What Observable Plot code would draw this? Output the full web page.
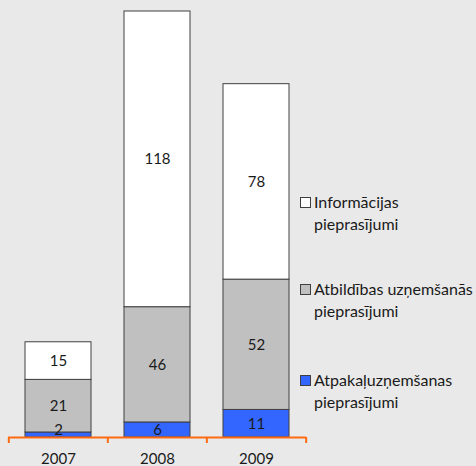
<!DOCTYPE html>
<html>
<head>
<meta charset="utf-8">
<script src="https://cdn.jsdelivr.net/npm/d3@7"></script>
<script src="https://cdn.jsdelivr.net/npm/@observablehq/plot@0.6"></script>
<style>
  html, body { margin: 0; padding: 0; background: #e9e9e9; }
  body { width: 476px; height: 466px; position: relative; overflow: hidden; font-family: Lato, "Open Sans", sans-serif; color: #1a1a1a; }
  #chart { position: absolute; left: 0; top: 0; }
  #legend { position: absolute; left: 300px; top: 191px; }
  .item { position: relative; height: 44px; margin-bottom: 43px; padding-left: 14px; font-size: 16px; line-height: 22px; white-space: nowrap; }
  .item:nth-child(2) { margin-bottom: 47px; }
  .sw { position: absolute; left: 0; top: 6px; width: 9px; height: 9px; border: 1px solid #404040; }
</style>
</head>
<body>
<div id="chart"></div>
<div id="legend"></div>
<script>
const years = ["2007", "2008", "2009"];
const seriesNames = [
  "Atpakaļuzņemšanas pieprasījumi",
  "Atbildības uzņemšanās pieprasījumi",
  "Informācijas pieprasījumi"
];
const seriesColors = ["#3366ff", "#c0c0c0", "#ffffff"];
const returnReq = [2, 6, 11];
const responsibilityReq = [21, 46, 52];
const infoReq = [15, 118, 78];

const seriesValues = [returnReq, responsibilityReq, infoReq];
const data = [];
seriesNames.forEach((s, si) => {
  years.forEach((y, yi) => data.push({year: y, series: s, value: seriesValues[si][yi]}));
});

const W = 476, H = 466, ML = 8, MR = 170, MT = 11, MB = 29;
const step = (W - ML - MR) / years.length;
const orange = "#ff6a13";

const chart = Plot.plot({
  width: W,
  height: H,
  marginLeft: ML,
  marginRight: MR,
  marginTop: MT,
  marginBottom: MB,
  style: {background: "transparent", fontFamily: "Lato, 'Open Sans', sans-serif", color: "#1a1a1a"},
  x: {domain: years, paddingInner: 0.336, paddingOuter: 0.168, label: null},
  y: {domain: [0, 170], axis: null},
  color: {domain: seriesNames, range: seriesColors},
  marks: [
    Plot.barY(data, {x: "year", y: "value", fill: "series", stroke: "#404040", strokeWidth: 1, order: seriesNames}),
    Plot.text(data, Plot.stackY({x: "year", y: "value", text: "value", z: "series", order: seriesNames, fontSize: 15, fill: "#1a1a1a"})),
    Plot.ruleY([0], {stroke: orange, strokeWidth: 2}),
    Plot.axisX({tickSize: 6, dx: -step / 2, stroke: orange, strokeWidth: 2, tickFormat: () => "", label: null}),
    Plot.axisX([years[years.length - 1]], {tickSize: 6, dx: step / 2, stroke: orange, strokeWidth: 2, tickFormat: () => "", label: null}),
    Plot.axisX({tickSize: 0, tickPadding: 16, fontSize: 15, fill: "#1a1a1a", label: null})
  ]
});
document.getElementById("chart").appendChild(chart);

// Excel nudges a label that does not fit its thin segment upward a little
const texts = chart.querySelectorAll("text");
texts.forEach((t) => {
  if (t.textContent === String(returnReq[0]) && !t.closest("g[aria-label^='x-axis']")) {
    const tr = t.getAttribute("transform") || "";
    t.setAttribute("transform", tr + " translate(0,-5)");
  }
});

const legend = document.getElementById("legend");
seriesNames.slice().reverse().forEach((name) => {
  const i = seriesNames.indexOf(name);
  const k = name.lastIndexOf(" ");
  const item = document.createElement("div");
  item.className = "item";
  const sw = document.createElement("span");
  sw.className = "sw";
  sw.style.background = seriesColors[i];
  item.appendChild(sw);
  item.appendChild(document.createTextNode(name.slice(0, k)));
  item.appendChild(document.createElement("br"));
  item.appendChild(document.createTextNode(name.slice(k + 1)));
  legend.appendChild(item);
});
</script>
</body>
</html>
